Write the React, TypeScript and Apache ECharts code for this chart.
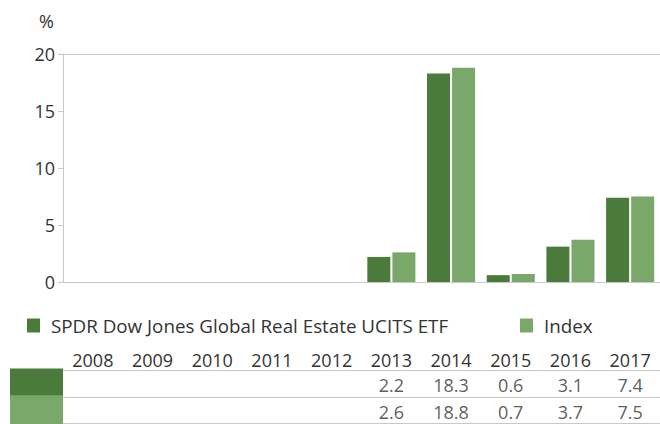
import React, { useEffect, useRef } from "react";
import * as echarts from "echarts";

const years = ["2008", "2009", "2010", "2011", "2012", "2013", "2014", "2015", "2016", "2017"];
const etfName = "SPDR Dow Jones Global Real Estate UCITS ETF";
const indexName = "Index";
const etfValues: (number | null)[] = [null, null, null, null, null, 2.2, 18.3, 0.6, 3.1, 7.4];
const indexValues: (number | null)[] = [null, null, null, null, null, 2.6, 18.8, 0.7, 3.7, 7.5];
const rowKeys = ["etf", "index"];
const yTicks = { min: 0, max: 20, interval: 5 };

const DARK = "#4a7b3a";
const LIGHT = "#7aa86b";
const AXIS = "#c8c8c8";
const TEXT = "#333333";
const FONT = "'Open Sans', sans-serif";
const FS = 18;
const LEGEND_FS = 18.8;

export default function App() {
  const ref = useRef<HTMLDivElement>(null);
  useEffect(() => {
    document.body.style.margin = "0";
    const chart = echarts.init(ref.current!, null, { renderer: "svg" });
    const tableData: any[] = [];
    [etfValues, indexValues].forEach((arr, r) => {
      arr.forEach((v, i) => {
        if (v !== null) tableData.push([i, r, v]);
      });
    });
    const legendBase = {
      top: 311,
      icon: "rect",
      itemWidth: 13,
      itemHeight: 14,
      selectedMode: false,
      textStyle: { fontSize: LEGEND_FS, color: TEXT, fontFamily: FONT, padding: [0, 0, 0, 6] },
    };
    chart.setOption({
      animation: false,
      textStyle: { fontFamily: FONT },
      legend: [
        { ...legendBase, data: [etfName], left: 22 },
        { ...legendBase, data: [indexName], left: 515 },
      ],
      grid: [
        { left: 63, top: 54, width: 602, height: 228 },
        { left: 63, top: 370, width: 602, height: 58 },
      ],
      xAxis: [
        {
          type: "category",
          gridIndex: 0,
          data: years,
          axisLine: { show: true, lineStyle: { color: AXIS, width: 1 } },
          axisTick: { show: false },
          axisLabel: { show: false },
        },
        {
          type: "category",
          gridIndex: 0,
          position: "top",
          data: years,
          axisLine: { show: true, lineStyle: { color: AXIS, width: 1 } },
          axisTick: { show: false },
          axisLabel: { show: false },
        },
        {
          type: "category",
          gridIndex: 1,
          position: "top",
          data: years,
          axisLine: { show: true, lineStyle: { color: AXIS, width: 1 } },
          axisTick: { show: false },
          axisLabel: { show: true, interval: 0, fontSize: FS, color: TEXT, fontFamily: FONT, margin: 1 },
        },
      ],
      yAxis: [
        {
          type: "value",
          gridIndex: 0,
          min: yTicks.min,
          max: yTicks.max,
          interval: yTicks.interval,
          name: "%",
          nameLocation: "end",
          nameGap: 33,
          nameTextStyle: {
            fontSize: FS,
            color: TEXT,
            fontFamily: FONT,
            align: "right",
            verticalAlign: "middle",
            padding: [0, 9, 0, 0],
          },
          axisLine: { show: true, lineStyle: { color: AXIS, width: 1 } },
          axisTick: { show: true, length: 5, lineStyle: { color: AXIS } },
          splitLine: { show: false },
          axisLabel: { fontSize: FS, color: TEXT, fontFamily: FONT, margin: 8 },
        },
        {
          type: "category",
          gridIndex: 1,
          inverse: true,
          data: rowKeys,
          axisLine: { show: false },
          axisTick: { show: false },
          splitLine: { show: true, lineStyle: { color: AXIS, width: 1 } },
          axisLabel: {
            margin: 0,
            interval: 0,
            hideOverlap: false,
            formatter: (v: string) => (v === "etf" ? "{a| }" : "{b| }"),
            rich: {
              a: { backgroundColor: DARK, width: 53, height: 30 },
              b: { backgroundColor: LIGHT, width: 53, height: 30 },
            },
          },
        },
      ],
      series: [
        {
          name: etfName,
          type: "bar",
          xAxisIndex: 0,
          yAxisIndex: 0,
          data: etfValues,
          barWidth: 23,
          barGap: "9%",
          itemStyle: { color: DARK },
        },
        {
          name: indexName,
          type: "bar",
          xAxisIndex: 0,
          yAxisIndex: 0,
          data: indexValues,
          barWidth: 23,
          barGap: "9%",
          itemStyle: { color: LIGHT },
        },
        {
          type: "scatter",
          xAxisIndex: 2,
          yAxisIndex: 1,
          symbolSize: 0,
          data: tableData,
          label: {
            show: true,
            position: "inside",
            offset: [0, 2],
            fontSize: FS,
            color: TEXT,
            fontFamily: FONT,
            formatter: (p: any) => Number(p.value[2]).toFixed(1),
          },
        },
      ],
    });
    return () => chart.dispose();
  }, []);
  return (
    <div
      ref={ref}
      style={{ width: 660, height: 424, position: "absolute", left: 0, top: 0 }}
    />
  );
}
